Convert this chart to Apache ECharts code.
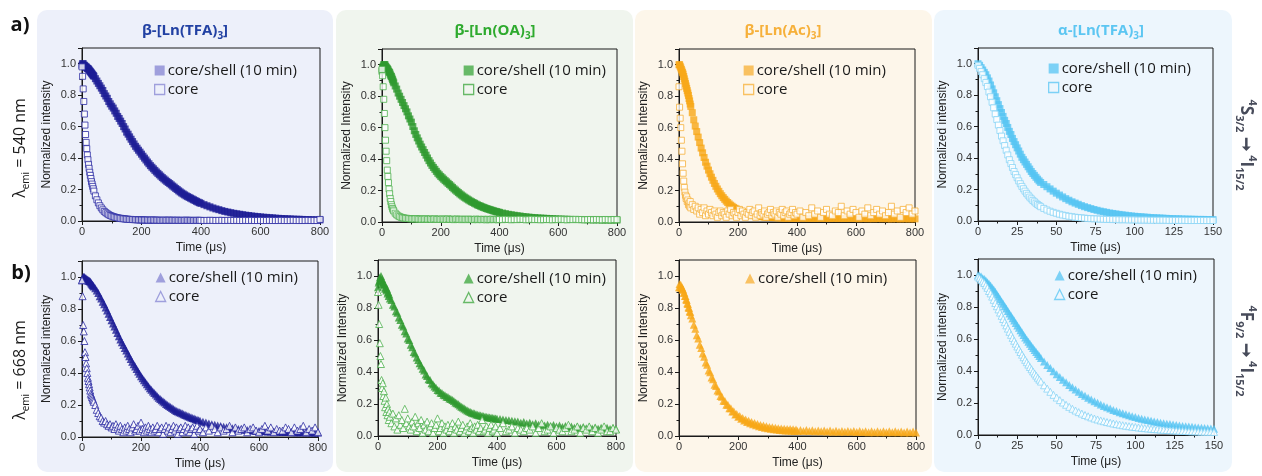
<!DOCTYPE html>
<html><head><meta charset="utf-8">
<script src="https://cdn.jsdelivr.net/npm/echarts@6/dist/echarts.min.js"></script>
<style>html,body{margin:0;padding:0;background:#fff}#c{width:1262px;height:476px}</style>
</head><body><div id="c"></div>
<script>
// ---- time axes (µs) ----
const timeLong = [0,2,4,6,8,10,12,14,16,18,
20,22,24,26,28,30,32,34,36,38,
40,45,50,55,60,65,70,75,80,85,
90,95,100,105,110,115,120,125,130,135,
140,145,150,155,160,165,170,175,180,185,
190,195,200,205,210,215,220,225,230,235,
240,245,250,255,260,265,270,275,280,285,
290,295,300,305,310,315,320,325,330,335,
340,345,350,355,360,365,370,375,380,385,
390,395,400,410,420,430,440,450,460,470,
480,490,500,510,520,530,540,550,560,570,
580,590,600,610,620,630,640,650,660,670,
680,690,700,710,720,730,740,750,760,770,
780,790,800];
const timeShort = [0,1,2,3,4,5,6,7,8,9,
10,11,12,13,14,15,16,17,18,19,
20,21,22,23,24,25,26,27,28,29,
30,31,32,33,34,35,36,37,38,39,
40,42,44,46,48,50,52,54,56,58,
60,62,64,66,68,70,72,74,76,78,
80,82,84,86,88,90,92,94,96,98,
100,102,104,106,108,110,112,114,116,118,
120,122,124,126,128,130,132,134,136,138,
140,142,144,146,148,150];

// ---- row a) lambda_emi = 540 nm ----
const p1CoreShell = [0.99,1.00,1.00,0.99,0.99,0.985,0.98,0.98,0.975,0.97,
0.97,0.965,0.96,0.955,0.95,0.945,0.94,0.935,0.93,0.925,
0.92,0.905,0.89,0.875,0.86,0.845,0.83,0.81,0.795,0.78,
0.76,0.745,0.73,0.718,0.70,0.685,0.665,0.652,0.635,0.62,
0.60,0.585,0.565,0.552,0.535,0.52,0.505,0.49,0.475,0.463,
0.45,0.438,0.425,0.412,0.40,0.388,0.375,0.364,0.352,0.342,
0.332,0.322,0.312,0.303,0.294,0.285,0.276,0.268,0.26,0.252,
0.245,0.238,0.23,0.222,0.215,0.207,0.20,0.192,0.185,0.178,
0.172,0.166,0.16,0.155,0.15,0.145,0.14,0.135,0.13,0.125,
0.12,0.116,0.112,0.104,0.097,0.09,0.083,0.077,0.072,0.066,
0.061,0.057,0.053,0.049,0.046,0.043,0.04,0.037,0.035,0.032,
0.03,0.028,0.026,0.024,0.023,0.021,0.02,0.018,0.017,0.016,
0.015,0.014,0.013,0.012,0.011,0.011,0.01,0.009,0.009,0.008,
0.008,0.007,0.007];
const p1Core = [0.98,0.92,0.84,0.76,0.68,0.61,0.55,0.50,0.46,0.42,
0.39,0.36,0.335,0.31,0.29,0.27,0.25,0.235,0.22,0.205,
0.19,0.16,0.135,0.115,0.097,0.083,0.071,0.061,0.053,0.046,
0.04,0.035,0.031,0.028,0.025,0.022,0.02,0.018,0.017,0.015,
0.014,0.013,0.012,0.011,0.01,0.01,0.009,0.009,0.008,0.008,
0.007,0.007,0.007,0.006,0.006,0.006,0.006,0.005,0.005,0.006,
0.006,0.005,0.005,0.005,0.005,0.004,0.004,0.005,0.005,0.004,
0.005,0.005,0.004,0.005,0.004,0.004,0.005,0.004,0.004,0.004,
0.004,0.004,0.005,0.004,0.004,0.004,0.004,0.003,0.004,0.004,
0.004,0.004,0.004,0.003,0.004,0.004,0.004,0.003,0.004,0.004,
0.003,0.004,0.004,0.003,0.004,0.003,0.003,0.004,0.003,0.004,
0.003,0.003,0.004,0.003,0.003,0.004,0.003,0.003,0.003,0.004,
0.003,0.003,0.003,0.004,0.003,0.003,0.003,0.003,0.004,0.003,
0.003,0.003,0.01];
const p2CoreShell = [0.96,0.98,0.99,1.00,1.00,1.00,0.99,0.985,0.98,0.975,
0.97,0.96,0.955,0.95,0.94,0.93,0.925,0.915,0.905,0.895,
0.885,0.865,0.845,0.82,0.80,0.78,0.76,0.74,0.72,0.70,
0.675,0.655,0.635,0.607,0.58,0.557,0.535,0.515,0.495,0.477,
0.46,0.442,0.425,0.407,0.39,0.375,0.36,0.347,0.335,0.322,
0.31,0.30,0.29,0.281,0.272,0.263,0.255,0.246,0.238,0.229,
0.22,0.211,0.203,0.195,0.187,0.179,0.172,0.165,0.158,0.152,
0.146,0.14,0.134,0.129,0.124,0.119,0.114,0.109,0.105,0.101,
0.097,0.093,0.09,0.086,0.083,0.08,0.077,0.074,0.071,0.068,
0.066,0.063,0.061,0.057,0.053,0.049,0.046,0.043,0.04,0.038,
0.035,0.033,0.031,0.029,0.028,0.026,0.025,0.024,0.023,0.022,
0.021,0.02,0.019,0.018,0.018,0.017,0.017,0.016,0.016,0.016,
0.015,0.015,0.015,0.014,0.014,0.014,0.014,0.013,0.013,0.013,
0.013,0.013,0.013];
const p2Core = [0.97,0.93,0.86,0.78,0.69,0.60,0.52,0.45,0.39,0.33,
0.29,0.25,0.21,0.18,0.15,0.13,0.11,0.097,0.086,0.077,
0.07,0.056,0.046,0.039,0.034,0.03,0.027,0.025,0.024,0.023,
0.022,0.021,0.02,0.02,0.019,0.021,0.02,0.018,0.019,0.017,
0.019,0.018,0.02,0.017,0.018,0.019,0.016,0.018,0.02,0.017,
0.017,0.018,0.016,0.019,0.017,0.018,0.016,0.02,0.017,0.016,
0.018,0.015,0.017,0.019,0.016,0.017,0.015,0.018,0.016,0.017,
0.015,0.018,0.016,0.017,0.015,0.016,0.018,0.015,0.017,0.016,
0.015,0.017,0.016,0.014,0.017,0.015,0.016,0.018,0.015,0.016,
0.017,0.014,0.016,0.015,0.017,0.016,0.014,0.016,0.015,0.017,
0.016,0.014,0.015,0.017,0.015,0.016,0.014,0.015,0.016,0.015,
0.014,0.016,0.015,0.017,0.015,0.014,0.016,0.015,0.017,0.015,
0.016,0.014,0.015,0.016,0.014,0.016,0.015,0.014,0.016,0.015,
0.014,0.016,0.015];
const p3CoreShell = [1.00,1.00,0.99,0.98,0.97,0.96,0.95,0.94,0.925,0.91,
0.895,0.88,0.865,0.85,0.835,0.82,0.805,0.785,0.77,0.75,
0.735,0.695,0.65,0.61,0.575,0.54,0.505,0.47,0.44,0.41,
0.38,0.355,0.33,0.307,0.285,0.265,0.245,0.227,0.21,0.195,
0.18,0.167,0.155,0.144,0.133,0.124,0.115,0.107,0.10,0.093,
0.087,0.082,0.077,0.072,0.068,0.064,0.06,0.057,0.054,0.051,
0.048,0.046,0.044,0.042,0.04,0.038,0.037,0.035,0.034,0.033,
0.032,0.031,0.03,0.03,0.029,0.029,0.028,0.028,0.028,0.027,
0.027,0.027,0.026,0.026,0.026,0.026,0.025,0.026,0.025,0.025,
0.025,0.025,0.024,0.024,0.025,0.024,0.023,0.024,0.023,0.024,
0.023,0.024,0.023,0.022,0.023,0.024,0.022,0.023,0.022,0.023,
0.022,0.023,0.022,0.021,0.022,0.023,0.021,0.022,0.021,0.022,
0.022,0.021,0.022,0.021,0.02,0.022,0.021,0.02,0.021,0.021,
0.02,0.021,0.02];
const p3Core = [0.86,0.73,0.66,0.60,0.52,0.45,0.37,0.31,0.26,0.22,
0.19,0.17,0.15,0.16,0.13,0.14,0.11,0.12,0.10,0.13,
0.09,0.11,0.08,0.10,0.07,0.09,0.05,0.08,0.06,0.09,
0.04,0.07,0.05,0.08,0.06,0.04,0.07,0.05,0.03,0.06,
0.07,0.04,0.06,0.05,0.03,0.07,0.05,0.08,0.04,0.06,
0.05,0.03,0.06,0.08,0.04,0.07,0.05,0.03,0.06,0.05,
0.08,0.04,0.06,0.07,0.03,0.05,0.09,0.04,0.06,0.05,
0.07,0.03,0.05,0.06,0.08,0.04,0.06,0.05,0.07,0.03,
0.06,0.05,0.08,0.04,0.06,0.07,0.03,0.05,0.06,0.08,
0.04,0.06,0.05,0.07,0.03,0.06,0.04,0.09,0.05,0.07,
0.03,0.06,0.08,0.05,0.04,0.07,0.06,0.10,0.04,0.07,
0.05,0.08,0.06,0.03,0.07,0.05,0.09,0.04,0.06,0.08,
0.05,0.07,0.04,0.06,0.10,0.05,0.07,0.03,0.08,0.06,
0.09,0.05,0.07];
const p4CoreShell = [1.00,0.99,0.975,0.96,0.945,0.93,0.91,0.89,0.865,0.84,
0.815,0.79,0.765,0.74,0.715,0.69,0.665,0.64,0.62,0.595,
0.57,0.55,0.525,0.505,0.485,0.465,0.445,0.425,0.405,0.39,
0.375,0.36,0.345,0.33,0.315,0.302,0.29,0.278,0.266,0.255,
0.245,0.232,0.218,0.204,0.19,0.177,0.165,0.153,0.142,0.132,
0.122,0.114,0.106,0.098,0.091,0.085,0.079,0.073,0.068,0.063,
0.059,0.055,0.051,0.048,0.045,0.042,0.039,0.037,0.034,0.032,
0.03,0.028,0.027,0.025,0.024,0.022,0.021,0.02,0.019,0.018,
0.017,0.016,0.015,0.014,0.014,0.013,0.012,0.012,0.011,0.011,
0.01,0.01,0.01,0.009,0.009,0.009];
const p4Core = [0.99,0.97,0.95,0.93,0.905,0.88,0.855,0.82,0.79,0.755,
0.72,0.68,0.645,0.61,0.575,0.54,0.51,0.48,0.45,0.42,
0.39,0.365,0.34,0.315,0.295,0.275,0.255,0.237,0.22,0.205,
0.19,0.176,0.164,0.152,0.141,0.131,0.122,0.113,0.105,0.098,
0.091,0.08,0.07,0.062,0.055,0.049,0.043,0.038,0.034,0.03,
0.027,0.024,0.022,0.02,0.018,0.016,0.015,0.014,0.013,0.012,
0.011,0.01,0.01,0.009,0.009,0.008,0.008,0.008,0.007,0.007,
0.007,0.006,0.006,0.006,0.006,0.005,0.005,0.005,0.005,0.005,
0.005,0.004,0.004,0.004,0.004,0.004,0.004,0.003,0.003,0.003,
0.003,0.003,0.003,0.003,0.003,0.003];

// ---- row b) lambda_emi = 668 nm ----
const p5CoreShell = [0.98,0.99,1.00,1.00,1.00,0.995,0.99,0.99,0.985,0.985,
0.98,0.98,0.975,0.975,0.97,0.965,0.96,0.955,0.95,0.945,
0.94,0.93,0.915,0.90,0.88,0.865,0.845,0.83,0.81,0.79,
0.77,0.75,0.73,0.71,0.69,0.67,0.65,0.63,0.61,0.592,
0.575,0.557,0.54,0.522,0.505,0.487,0.47,0.455,0.44,0.425,
0.41,0.395,0.38,0.367,0.355,0.342,0.33,0.317,0.305,0.295,
0.285,0.275,0.265,0.255,0.245,0.237,0.23,0.222,0.215,0.207,
0.20,0.193,0.187,0.181,0.175,0.169,0.163,0.159,0.155,0.151,
0.147,0.142,0.138,0.134,0.13,0.126,0.122,0.118,0.115,0.111,
0.108,0.105,0.102,0.096,0.09,0.085,0.08,0.076,0.072,0.068,
0.064,0.061,0.058,0.055,0.052,0.05,0.048,0.046,0.044,0.042,
0.041,0.039,0.038,0.037,0.036,0.035,0.035,0.034,0.033,0.033,
0.032,0.032,0.031,0.031,0.03,0.03,0.03,0.029,0.029,0.029,
0.028,0.028,0.028];
const p5Core = [0.98,0.88,0.70,0.66,0.60,0.53,0.50,0.46,0.43,0.40,
0.37,0.35,0.33,0.31,0.29,0.27,0.26,0.25,0.24,0.23,
0.22,0.20,0.17,0.15,0.13,0.12,0.10,0.09,0.10,0.08,
0.07,0.08,0.06,0.07,0.05,0.08,0.06,0.04,0.07,0.05,
0.03,0.06,0.04,0.07,0.05,0.03,0.06,0.08,0.04,0.05,
0.07,0.04,0.09,0.05,0.03,0.06,0.04,0.07,0.05,0.03,
0.06,0.04,0.05,0.07,0.03,0.05,0.06,0.02,0.05,0.07,
0.04,0.06,0.03,0.05,0.07,0.04,0.06,0.02,0.05,0.06,
0.03,0.05,0.07,0.04,0.06,0.03,0.05,0.06,0.02,0.05,
0.07,0.04,0.05,0.03,0.06,0.04,0.07,0.05,0.03,0.06,
0.04,0.05,0.07,0.03,0.06,0.04,0.05,0.06,0.03,0.05,
0.06,0.04,0.03,0.05,0.07,0.04,0.06,0.03,0.05,0.04,
0.04,0.06,0.05,0.03,0.06,0.04,0.05,0.07,0.03,0.05,
0.04,0.06,0.03];
const p6CoreShell = [0.93,0.96,0.97,0.99,0.98,1.00,0.97,0.98,0.95,0.96,
0.94,0.95,0.92,0.93,0.91,0.92,0.89,0.90,0.875,0.885,
0.86,0.85,0.82,0.81,0.78,0.77,0.74,0.725,0.695,0.685,
0.655,0.64,0.61,0.60,0.57,0.555,0.525,0.515,0.49,0.475,
0.455,0.44,0.42,0.41,0.385,0.375,0.355,0.35,0.33,0.322,
0.31,0.302,0.288,0.285,0.27,0.268,0.258,0.255,0.245,0.243,
0.235,0.232,0.225,0.218,0.21,0.205,0.198,0.19,0.183,0.178,
0.172,0.166,0.16,0.155,0.15,0.146,0.142,0.14,0.135,0.133,
0.13,0.128,0.125,0.124,0.12,0.119,0.117,0.116,0.114,0.113,
0.111,0.11,0.108,0.106,0.103,0.10,0.098,0.095,0.092,0.09,
0.083,0.088,0.078,0.083,0.074,0.079,0.07,0.075,0.066,0.071,
0.063,0.068,0.059,0.065,0.056,0.062,0.054,0.06,0.052,0.058,
0.05,0.057,0.048,0.055,0.047,0.053,0.046,0.052,0.045,0.051,
0.044,0.05,0.044];
const p6Core = [0.90,0.82,0.70,0.58,0.50,0.45,0.35,0.30,0.33,0.25,
0.28,0.22,0.18,0.24,0.15,0.20,0.13,0.17,0.10,0.15,
0.12,0.08,0.14,0.06,0.11,0.04,0.13,0.07,0.10,0.05,
0.17,0.08,0.11,0.06,0.04,0.09,0.06,0.12,0.03,0.08,
0.05,0.10,0.02,0.07,0.04,0.09,0.03,0.06,0.08,0.02,
0.05,0.07,0.11,0.03,0.05,0.08,0.02,0.06,0.04,0.07,
0.03,0.05,0.08,0.02,0.06,0.04,0.09,0.03,0.05,0.07,
0.02,0.04,0.06,0.03,0.08,0.05,0.02,0.06,0.04,0.07,
0.03,0.05,0.10,0.03,0.04,0.06,0.02,0.05,0.07,0.03,
0.04,0.06,0.02,0.05,0.08,0.03,0.04,0.06,0.02,0.05,
0.04,0.03,0.05,0.04,0.06,0.02,0.05,0.08,0.03,0.04,
0.06,0.02,0.05,0.04,0.03,0.05,0.07,0.03,0.04,0.06,
0.02,0.05,0.04,0.06,0.03,0.05,0.02,0.04,0.06,0.03,
0.03,0.05,0.04];
const p7CoreShell = [0.93,0.95,0.93,0.945,0.925,0.93,0.915,0.915,0.895,0.895,
0.875,0.875,0.855,0.85,0.83,0.825,0.805,0.80,0.78,0.775,
0.755,0.735,0.695,0.67,0.63,0.61,0.57,0.55,0.515,0.495,
0.46,0.445,0.41,0.398,0.365,0.354,0.32,0.313,0.285,0.278,
0.25,0.246,0.221,0.219,0.195,0.195,0.173,0.174,0.153,0.155,
0.135,0.138,0.12,0.125,0.108,0.113,0.097,0.103,0.088,0.095,
0.08,0.087,0.073,0.081,0.067,0.075,0.061,0.069,0.056,0.065,
0.052,0.061,0.048,0.057,0.045,0.054,0.042,0.051,0.04,0.049,
0.038,0.047,0.036,0.045,0.035,0.044,0.034,0.043,0.033,0.042,
0.032,0.041,0.031,0.038,0.032,0.037,0.031,0.036,0.03,0.035,
0.029,0.034,0.028,0.034,0.027,0.033,0.027,0.032,0.026,0.032,
0.026,0.031,0.025,0.031,0.025,0.03,0.024,0.03,0.024,0.03,
0.024,0.029,0.023,0.029,0.023,0.029,0.023,0.028,0.022,0.028,
0.022,0.028,0.022];
const p8CoreShell = [1.00,0.995,0.99,0.98,0.975,0.965,0.955,0.945,0.935,0.92,
0.91,0.895,0.88,0.865,0.85,0.835,0.82,0.805,0.79,0.775,
0.76,0.745,0.73,0.715,0.70,0.685,0.67,0.655,0.64,0.625,
0.61,0.597,0.583,0.57,0.557,0.544,0.531,0.518,0.506,0.494,
0.482,0.46,0.438,0.418,0.398,0.38,0.362,0.345,0.329,0.313,
0.298,0.284,0.27,0.257,0.245,0.233,0.222,0.211,0.201,0.191,
0.182,0.173,0.165,0.157,0.15,0.142,0.136,0.129,0.123,0.117,
0.112,0.107,0.102,0.097,0.093,0.089,0.085,0.081,0.077,0.074,
0.071,0.068,0.065,0.062,0.06,0.057,0.055,0.053,0.051,0.049,
0.047,0.045,0.043,0.042,0.04,0.039];
const p8Core = [0.99,0.98,0.97,0.96,0.95,0.935,0.92,0.90,0.885,0.865,
0.845,0.825,0.805,0.785,0.765,0.745,0.725,0.705,0.685,0.665,
0.645,0.626,0.607,0.589,0.571,0.553,0.536,0.519,0.502,0.486,
0.47,0.455,0.44,0.425,0.411,0.397,0.384,0.371,0.358,0.346,
0.334,0.311,0.29,0.27,0.251,0.234,0.218,0.203,0.189,0.176,
0.164,0.153,0.143,0.134,0.125,0.117,0.11,0.103,0.097,0.091,
0.086,0.081,0.077,0.072,0.068,0.065,0.061,0.058,0.055,0.052,
0.05,0.047,0.045,0.043,0.041,0.039,0.037,0.036,0.034,0.033,
0.031,0.03,0.029,0.028,0.027,0.026,0.025,0.024,0.023,0.023,
0.022,0.021,0.021,0.02,0.02,0.019];

// ---- labels ----
const nameCoreShell = 'core/shell (10 min)';
const nameCore = 'core';
const xAxisName = 'Time (μs)';
const colTitles = ['β-[Ln(TFA)', 'β-[Ln(OA)', 'β-[Ln(Ac)', 'α-[Ln(TFA)'];

// ---- layout / style ----
const fontAxis = '"Liberation Sans", Arial, sans-serif';
const fontText = '"Open Sans", "Noto Sans", sans-serif';
const colColors = [
  {title:'#2241a3', cs:'#1d1d95', core:'#2c2ca4', leg:'#8b8bd5', panel:'#edf0fa'},
  {title:'#2eaa2e', cs:'#2f9a2f', core:'#4fb14f', leg:'#45aa45', panel:'#f0f5ee'},
  {title:'#f6b03a', cs:'#f7a718', core:'#f6b13c', leg:'#f8b43e', panel:'#fdf6ea'},
  {title:'#5cc6f2', cs:'#55c4f3', core:'#8ad5f6', leg:'#5fc8f4', panel:'#edf6fd'}
];
const panelBoxes = [[37,10,296,462],[336,10,297,462],[635,10,297,462],[934,10,298,462]];
const titleCenters = [185, 495, 783, 1101];

const plots = [
  {grid:[82,48,238,173], time:timeLong, xmax:800, xint:200, yname:'Normalized intensity', col:0, sym:'rect', cs:p1CoreShell, core:p1Core, leg:[154,63]},
  {grid:[382,49,235,173], time:timeLong, xmax:800, xint:200, yname:'Normalized Intensity', col:1, sym:'rect', cs:p2CoreShell, core:p2Core, leg:[463,63]},
  {grid:[679,49,236,173], time:timeLong, xmax:800, xint:200, yname:'Normalized Intensity', col:2, sym:'rect', cs:p3CoreShell, core:p3Core, leg:[743,63]},
  {grid:[978,48,235,173], time:timeShort, xmax:150, xint:25, yname:'Normalized intensity', col:3, sym:'rect', cs:p4CoreShell, core:p4Core, leg:[1048,61]},
  {grid:[82,261,236,176], time:timeLong, xmax:800, xint:200, yname:'Normalized intensity', col:0, sym:'triangle', cs:p5CoreShell, core:p5Core, leg:[155,270]},
  {grid:[378,260,238,176], time:timeLong, xmax:800, xint:200, yname:'Normalized Intensity', col:1, sym:'triangle', cs:p6CoreShell, core:p6Core, leg:[463,271]},
  {grid:[679,260,237,176], time:timeLong, xmax:800, xint:200, yname:'Normalized Intensity', col:2, sym:'triangle', cs:p7CoreShell, core:null, leg:[745,271]},
  {grid:[978,259,236,176], time:timeShort, xmax:150, xint:25, yname:'Normalized intensity', col:3, sym:'triangle', cs:p8CoreShell, core:p8Core, leg:[1054,268]}
];

function pairs(t, y) {
  const out = [];
  for (let i = 0; i < t.length && i < y.length; i++) out.push([t[i], y[i]]);
  return out;
}

const grids = [], xAxes = [], yAxes = [], series = [], legends = [];
plots.forEach((p, i) => {
  const c = colColors[p.col];
  grids.push({left:p.grid[0], top:p.grid[1], width:p.grid[2], height:p.grid[3], show:true,
    borderColor:'#1a1a1a', borderWidth:1, backgroundColor:'transparent'});
  const tickLine = {color:'#1a1a1a', width:1};
  xAxes.push({gridIndex:i, type:'value', min:0, max:p.xmax, interval:p.xint,
    name:xAxisName, nameLocation:'middle', nameGap:21,
    nameTextStyle:{fontFamily:fontAxis, fontSize:12, color:'#222'},
    axisLine:{onZero:false, lineStyle:tickLine},
    axisTick:{show:true, inside:false, length:4, lineStyle:tickLine},
    minorTick:{show:true, splitNumber:2, length:2.5, lineStyle:tickLine},
    axisLabel:{fontFamily:fontAxis, fontSize:11, color:'#333', margin:5},
    splitLine:{show:false}, minorSplitLine:{show:false}});
  yAxes.push({gridIndex:i, type:'value', min:0, max:1.1, interval:0.2,
    name:p.yname, nameLocation:'middle', nameGap:29, nameRotate:90,
    nameTextStyle:{fontFamily:fontAxis, fontSize:12, color:'#222'},
    axisLine:{onZero:false, lineStyle:tickLine},
    axisTick:{show:true, inside:false, length:4, lineStyle:tickLine},
    minorTick:{show:true, splitNumber:2, length:2.5, lineStyle:tickLine},
    axisLabel:{fontFamily:fontAxis, fontSize:11, color:'#333', margin:6, showMaxLabel:false,
      formatter:v => v.toFixed(1)},
    splitLine:{show:false}, minorSplitLine:{show:false}});
  const tri = p.sym === 'triangle';
  series.push({type:'scatter', name:nameCoreShell, xAxisIndex:i, yAxisIndex:i,
    symbol:p.sym, symbolSize:tri ? 8 : 7, data:pairs(p.time, p.cs),
    itemStyle:{color:c.cs}, emphasis:{disabled:true}, animation:false});
  const legData = [{name:nameCoreShell, icon:p.sym, itemStyle:{color:c.leg, borderWidth:0}}];
  if (p.core) {
    series.push({type:'scatter', name:nameCore, xAxisIndex:i, yAxisIndex:i,
      symbol:p.sym, symbolSize:tri ? 7 : 6, data:pairs(p.time, p.core),
      itemStyle:{color:'#ffffff', borderColor:c.core, borderWidth:1}, emphasis:{disabled:true}, animation:false});
    legData.push({name:nameCore, icon:p.sym, itemStyle:{color:'rgba(255,255,255,0)', borderColor:c.leg, borderWidth:1.3}});
  }
  legends.push({left:p.leg[0], top:p.leg[1], orient:'vertical', padding:0, itemGap:4,
    itemWidth:10, itemHeight:10, selectedMode:false,
    textStyle:{fontFamily:fontText, fontSize:15, color:'#1a1a1a', padding:[0,0,0,-2]},
    data:legData});
});

const graphics = [];
panelBoxes.forEach((b, i) => {
  graphics.push({type:'rect', z:-10, shape:{x:b[0], y:b[1], width:b[2], height:b[3], r:10},
    style:{fill:colColors[i].panel}, silent:true});
});
colTitles.forEach((t, i) => {
  const col = colColors[i].title;
  graphics.push({type:'text', x:titleCenters[i], y:31, z:10, silent:true,
    style:{text:'{m|' + t + '}{s|3}{m|]}', align:'center', verticalAlign:'middle',
      rich:{m:{fontFamily:fontText, fontSize:15, fontWeight:'bold', fill:col, lineHeight:20},
            s:{fontFamily:fontText, fontSize:10, fontWeight:'bold', fill:col, lineHeight:10, verticalAlign:'bottom'}}}});
});
const richMain = {fontFamily:fontText, fontSize:16, fill:'#1a1a1a', lineHeight:22};
const richSub = {fontFamily:fontText, fontSize:10, fill:'#1a1a1a', lineHeight:10, verticalAlign:'bottom'};
graphics.push({type:'text', x:20, y:148, rotation:Math.PI/2, z:10, silent:true,
  style:{text:'{m|λ}{s|emi}{m| = 540 nm}', align:'center', verticalAlign:'middle', rich:{m:richMain, s:richSub}}});
graphics.push({type:'text', x:20, y:370, rotation:Math.PI/2, z:10, silent:true,
  style:{text:'{m|λ}{s|emi}{m| = 668 nm}', align:'center', verticalAlign:'middle', rich:{m:richMain, s:richSub}}});
const rb = {fontFamily:fontText, fontSize:17, fontWeight:'bold', fill:'#474b5a', lineHeight:24};
const rp = {fontFamily:fontText, fontSize:11, fontWeight:'bold', fill:'#474b5a', lineHeight:11, verticalAlign:'top'};
const rs = {fontFamily:fontText, fontSize:11, fontWeight:'bold', fill:'#474b5a', lineHeight:11, verticalAlign:'bottom'};
graphics.push({type:'text', x:1246, y:145, rotation:-Math.PI/2, z:10, silent:true,
  style:{text:'{p|4}{b|S}{s|3/2}{b| ➞ }{p|4}{b|I}{s|15/2}', align:'center', verticalAlign:'middle', rich:{b:rb, p:rp, s:rs}}});
graphics.push({type:'text', x:1246, y:351, rotation:-Math.PI/2, z:10, silent:true,
  style:{text:'{p|4}{b|F}{s|9/2}{b| ➞ }{p|4}{b|I}{s|15/2}', align:'center', verticalAlign:'middle', rich:{b:rb, p:rp, s:rs}}});
graphics.push({type:'text', x:20, y:25, z:10, silent:true,
  style:{text:'a)', font:'bold 20px ' + fontText, fill:'#111', align:'center', verticalAlign:'middle'}});
graphics.push({type:'text', x:21, y:273, z:10, silent:true,
  style:{text:'b)', font:'bold 20px ' + fontText, fill:'#111', align:'center', verticalAlign:'middle'}});

const chart = echarts.init(document.getElementById('c'));
chart.setOption({
  animation:false,
  backgroundColor:'#ffffff',
  grid:grids, xAxis:xAxes, yAxis:yAxes, series:series, legend:legends, graphic:graphics
});
</script></body></html>
